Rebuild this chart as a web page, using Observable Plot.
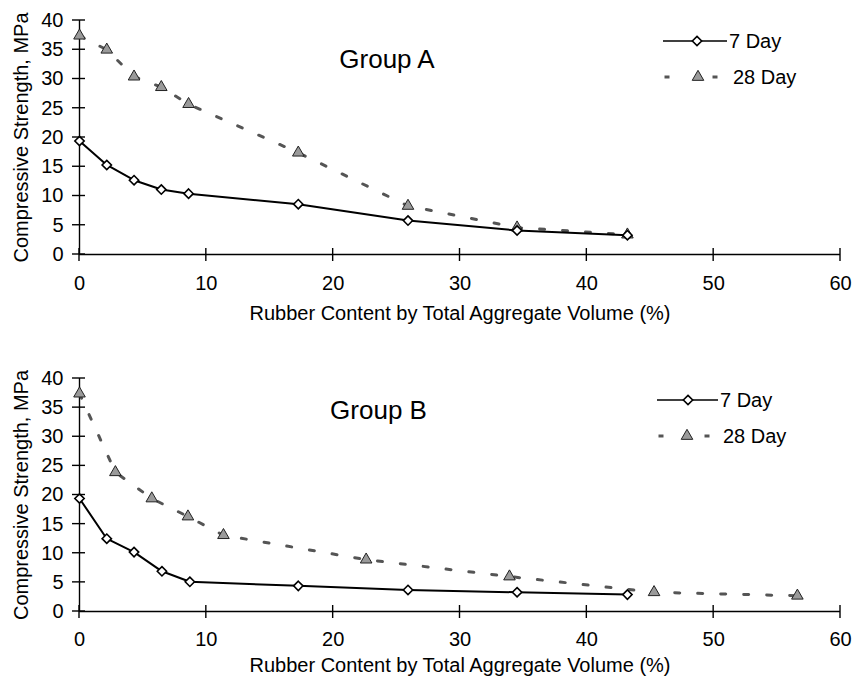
<!DOCTYPE html>
<html>
<head>
<meta charset="utf-8">
<script src="https://cdn.jsdelivr.net/npm/d3@7"></script>
<script src="https://cdn.jsdelivr.net/npm/@observablehq/plot@0.6"></script>
<style>
  html, body { margin: 0; padding: 0; background: #fff; }
  #wrap { width: 854px; }
  svg { display: block; }
</style>
</head>
<body>
<div id="wrap"></div>
<script>
// ---- Data ----
const xTicks = [0, 10, 20, 30, 40, 50, 60];
const yTicks = [0, 5, 10, 15, 20, 25, 30, 35, 40];
const xLabel = "Rubber Content by Total Aggregate Volume (%)";
const yLabel = "Compressive Strength, MPa";
const seriesNames = ["7 Day", "28 Day"];

// Group A
const groupA_x7 = [0, 2.15, 4.3, 6.45, 8.6, 17.25, 25.9, 34.5, 43.2];
const groupA_y7 = [19.4, 15.3, 12.7, 11.1, 10.4, 8.6, 5.8, 4.1, 3.3];
const groupA_x28 = [0, 2.15, 4.3, 6.45, 8.6, 17.25, 25.9, 34.5, 43.2];
const groupA_y28 = [37.4, 35.0, 30.4, 28.6, 25.7, 17.4, 8.3, 4.6, 3.4];

// Group B
const groupB_x7 = [0, 2.15, 4.3, 6.5, 8.7, 17.25, 25.9, 34.5, 43.2];
const groupB_y7 = [19.4, 12.5, 10.2, 6.9, 5.1, 4.4, 3.7, 3.3, 2.9];
const groupB_x28 = [0, 2.83, 5.7, 8.55, 11.35, 22.6, 33.9, 45.3, 56.6];
const groupB_y28 = [37.4, 23.9, 19.4, 16.3, 13.1, 8.9, 6.0, 3.3, 2.7];

// ---- Drawing ----
const FONT = "'Liberation Sans', Arial, Helvetica, sans-serif";
const W = 854, ML = 79, MR = 14;

function toRows(xs, ys) { return xs.map((x, i) => ({x, y: ys[i]})); }

function chart(opt) {
  const s7 = toRows(opt.x7, opt.y7);
  const s28 = toRows(opt.x28, opt.y28);
  const svg = Plot.plot({
    width: W,
    height: opt.height,
    marginTop: opt.marginTop,
    marginBottom: opt.marginBottom,
    marginLeft: ML,
    marginRight: MR,
    style: {fontFamily: FONT, fontSize: "20px"},
    x: {domain: [0, 60]},
    y: {domain: [0, 40]},
    marks: [
      Plot.ruleX([0], {stroke: "#000", strokeWidth: 1.4}),
      Plot.ruleY([0], {stroke: "#000", strokeWidth: 1.4}),
      // tick labels
      Plot.axisX({ticks: xTicks, tickSize: 7, tickPadding: opt.xPad, stroke: "none", label: null, fontSize: 20, fill: "#000"}),
      Plot.axisY({ticks: yTicks, tickSize: 7, tickPadding: 9, stroke: "none", label: null, fontSize: 20, fill: "#000"}),
      Plot.text([xLabel], {text: d => d, frameAnchor: "bottom", dy: opt.xLabelDy, lineAnchor: "middle", fontSize: 20, fill: "#000"}),
      Plot.text([yLabel], {text: d => d, frameAnchor: "left", dx: -57.5, rotate: -90, textAnchor: "middle", lineAnchor: "middle", fontSize: 20, fill: "#000"}),
      Plot.text([opt.title], {text: d => d, frameAnchor: "top", dx: opt.titleDx, dy: opt.titleDy, lineAnchor: "middle", fontSize: 26, fill: "#000"}),
      // 28 day
      Plot.line(s28, {x: "x", y: "y", stroke: "#555", strokeWidth: 3, strokeDasharray: "5,18"}),
      Plot.dot(s28, {x: "x", y: "y", symbol: "triangle", r: 4.3, fill: "#9a9a9a", stroke: "#222", strokeWidth: 1}),
      // 7 day
      Plot.line(s7, {x: "x", y: "y", stroke: "#000", strokeWidth: 2}),
      Plot.dot(s7, {x: "x", y: "y", symbol: "diamond2", r: 4.2, fill: "#fff", stroke: "#000", strokeWidth: 1.6})
    ]
  });

  // crossing tick marks, positioned through Plot's own scales
  const sx = svg.scale("x"), sy = svg.scale("y");
  const x0 = sx.apply(0), y0 = sy.apply(0);
  const tg = d3.select(svg).append("g").attr("stroke", "#000").attr("stroke-width", 1.4);
  for (const t of xTicks) {
    const px = sx.apply(t);
    tg.append("line").attr("x1", px).attr("x2", px).attr("y1", y0 - 6).attr("y2", y0 + 7);
  }
  for (const t of yTicks) {
    const py = sy.apply(t);
    tg.append("line").attr("x1", x0 - 7).attr("x2", x0 + 6).attr("y1", py).attr("y2", py);
  }

  // Legend
  const g = d3.select(svg).append("g")
    .attr("font-family", FONT).attr("font-size", 20).attr("text-anchor", "start").attr("fill", "#000");
  const L = opt.legend;
  g.append("line").attr("x1", L.x1).attr("x2", L.x2).attr("y1", L.y1).attr("y2", L.y1)
    .attr("stroke", "#000").attr("stroke-width", 1.6);
  g.append("path").attr("d", d3.symbol(d3.symbolDiamond2, Math.PI * 4.2 * 4.2)())
    .attr("transform", `translate(${L.dx},${L.y1})`)
    .attr("fill", "#fff").attr("stroke", "#000").attr("stroke-width", 1.6);
  g.append("text").attr("x", L.t1).attr("y", L.y1).attr("dy", "0.36em").text(seriesNames[0]);
  for (const dxx of L.dashes) {
    g.append("line").attr("x1", dxx - 2.5).attr("x2", dxx + 2.5).attr("y1", L.y2).attr("y2", L.y2)
      .attr("stroke", "#555").attr("stroke-width", 3);
  }
  g.append("path").attr("d", d3.symbol(d3.symbolTriangle, Math.PI * 4.3 * 4.3)())
    .attr("transform", `translate(${L.tx},${L.y2})`)
    .attr("fill", "#9a9a9a").attr("stroke", "#222").attr("stroke-width", 1);
  g.append("text").attr("x", L.t2).attr("y", L.y2).attr("dy", "0.36em").text(seriesNames[1]);
  return svg;
}

const wrap = document.getElementById("wrap");
wrap.appendChild(chart({
  title: "Group A", x7: groupA_x7, y7: groupA_y7, x28: groupA_x28, y28: groupA_y28,
  height: 330, marginTop: 20, marginBottom: 76, xPad: 14, xLabelDy: 59,
  titleDx: -73, titleDy: 39.5,
  legend: {x1: 663, x2: 727, y1: 41, dx: 697, t1: 729, y2: 77, dashes: [667, 715], tx: 698, t2: 733}
}));
wrap.appendChild(chart({
  title: "Group B", x7: groupB_x7, y7: groupB_y7, x28: groupB_x28, y28: groupB_y28,
  height: 347, marginTop: 48, marginBottom: 66, xPad: 13, xLabelDy: 54,
  titleDx: -81.5, titleDy: 32,
  legend: {x1: 657, x2: 718, y1: 70, dx: 688, t1: 720, y2: 106, dashes: [661, 707], tx: 687, t2: 723}
}));
</script>
</body>
</html>
